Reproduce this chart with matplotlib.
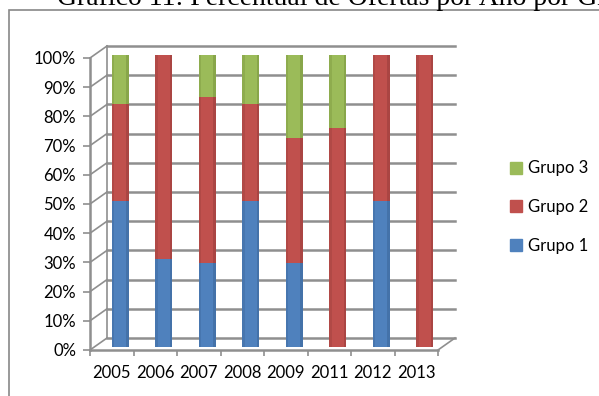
import numpy as np
import matplotlib
matplotlib.use('Agg')
import matplotlib.pyplot as plt
from matplotlib.patches import Patch, Rectangle

plt.rcParams['font.family'] = ['Lato', 'DejaVu Sans']

# data (percent of offers per year)
years = ['2005', '2006', '2007', '2008', '2009', '2011', '2012', '2013']
grupo1 = [50.0, 30.0, 28.6, 50.0, 28.6, 0.0, 50.0, 0.0]
grupo2 = [33.3, 70.0, 57.1, 33.3, 42.9, 75.0, 50.0, 100.0]
grupo3 = [16.7, 0.0, 14.3, 16.7, 28.6, 25.0, 0.0, 0.0]
yticks = [0, 10, 20, 30, 40, 50, 60, 70, 80, 90, 100]

c1 = '#4F81BD'
c2 = '#C0504D'
c3 = '#9BBB59'
gridc = '#8f8f8f'

W, H = 599, 396
fig = plt.figure(figsize=(W / 100, H / 100), dpi=100)

# outer chart frame (cut off on right and bottom)
fig.patches.append(Rectangle((9 / W, -0.1), 1.2, 1.1 - 10 / H, transform=fig.transFigure,
                             fill=False, edgecolor='#888888', lw=1.2))
fig.text(57 / W, 1 - 5 / H, 'Gráfico 11: Percentual de Ofertas por Ano por Grupo',
         family='Liberation Serif', fontsize=20, va='baseline', ha='left')

ax = fig.add_axes([90 / W, (H - 350) / H, 348 / W, 292 / H])
n = len(years)
ax.set_xlim(-0.5, n - 0.5)
ax.set_ylim(0, 100)

# pseudo-3D depth offset (in data units)
dx = 17 / 43.5
dy = 12 / 2.92

# back wall grid + left side wall diagonals
for v in yticks:
    ax.plot([-0.5 + dx, n - 0.5 + dx], [v + dy, v + dy], color=gridc, lw=1.8,
            clip_on=False, zorder=1)
    ax.plot([-0.5, -0.5 + dx], [v, v + dy], color=gridc, lw=1.2, clip_on=False, zorder=1)
ax.plot([-0.5 + dx, -0.5 + dx], [dy, 100 + dy], color=gridc, lw=1.2, clip_on=False, zorder=1)
# floor right edge
ax.plot([n - 0.5, n - 0.5 + dx], [0, dy], color=gridc, lw=1.2, clip_on=False, zorder=1)

x = np.arange(n) + dx / 2
g1 = np.array(grupo1)
g2 = np.array(grupo2)
g3 = np.array(grupo3)
base = dy / 2 - 1
bw = 0.39
ax.bar(x, g1, bw, bottom=base, color=c1, zorder=3, clip_on=False)
ax.bar(x, g2, bw, bottom=base + g1, color=c2, zorder=3, clip_on=False)
ax.bar(x, g3, bw, bottom=base + g1 + g2, color=c3, zorder=3, clip_on=False)
# shading on bar edges
for xs, b, h, c in [(x, base, g1, '#3a6496'), (x, base + g1, g2, '#963c3a'),
                    (x, base + g1 + g2, g3, '#76923c')]:
    ax.bar(xs - bw * 0.42, h, bw * 0.16, bottom=b, color=c, alpha=0.35, zorder=4,
           clip_on=False, lw=0)
    ax.bar(xs + bw * 0.42, h, bw * 0.16, bottom=b, color=c, alpha=0.5, zorder=4,
           clip_on=False, lw=0)

ax.set_yticks(yticks)
ax.set_yticklabels([f'{v}%' for v in yticks], fontsize=12)
ax.set_xticks(np.arange(n))
ax.set_xticklabels(years, fontsize=12)
ax.set_xticks(np.arange(n + 1) - 0.5, minor=True)
ax.tick_params(axis='x', which='major', length=0, pad=11)
ax.tick_params(axis='x', which='minor', length=4, color=gridc, width=1.2)
ax.tick_params(axis='y', length=5, color=gridc, width=1.2, pad=5)
for s in ['top', 'right']:
    ax.spines[s].set_visible(False)
for s in ['left', 'bottom']:
    ax.spines[s].set_color(gridc)
    ax.spines[s].set_linewidth(1.8)
ax.patch.set_visible(False)

handles = [Patch(color=c3), Patch(color=c2), Patch(color=c1)]
fig.legend(handles, ['Grupo 3', 'Grupo 2', 'Grupo 1'], loc='center left',
           bbox_to_anchor=(495 / W, 1 - 207 / H), frameon=False, fontsize=12,
           handlelength=0.7, handleheight=0.7, handletextpad=0.4, labelspacing=1.35)

fig.savefig('out.png', dpi=100)
